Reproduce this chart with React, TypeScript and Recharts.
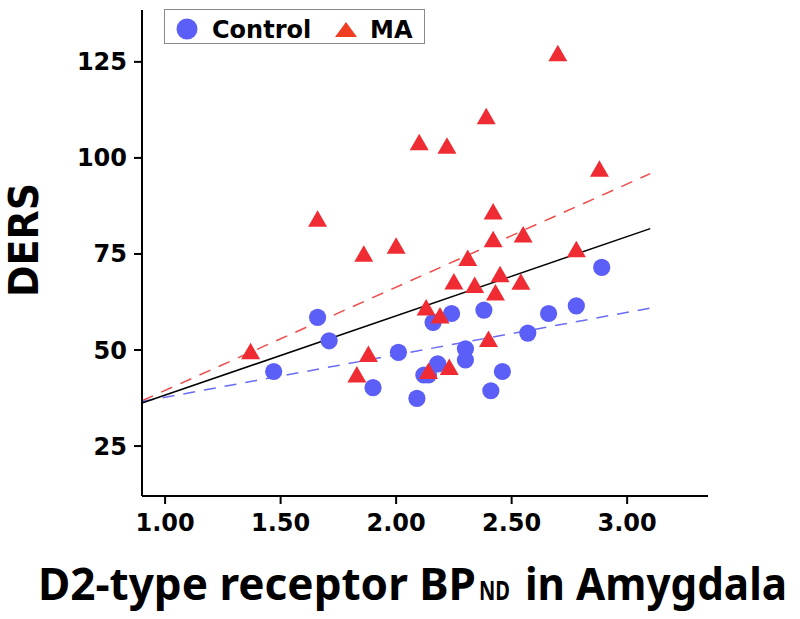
import React from "react"
import {
  ScatterChart,
  Scatter,
  XAxis,
  YAxis,
  ReferenceLine,
  Legend,
  Customized,
} from "recharts"

// Control group (circles)
const controlX = [1.47, 1.66, 1.71, 1.9, 2.01, 2.09, 2.12, 2.14, 2.18, 2.16, 2.24, 2.3, 2.3, 2.38, 2.41, 2.46, 2.57, 2.66, 2.78, 2.89]
const controlY = [44.4, 58.5, 52.4, 40.2, 49.4, 37.4, 43.5, 43.5, 46.4, 57.2, 59.5, 50.3, 47.4, 60.4, 39.4, 44.4, 54.4, 59.5, 61.5, 71.5]

// MA group (triangles)
const maX = [1.37, 1.66, 1.83, 1.86, 1.88, 2.0, 2.1, 2.13, 2.14, 2.19, 2.22, 2.23, 2.25, 2.31, 2.34, 2.39, 2.4, 2.42, 2.42, 2.43, 2.45, 2.54, 2.55, 2.7, 2.78, 2.88]
const maY = [49.0, 83.5, 43.0, 74.4, 48.3, 76.5, 103.4, 60.4, 43.9, 58.3, 102.5, 44.9, 67.2, 73.3, 66.3, 110.2, 52.2, 78.2, 85.4, 64.3, 69.1, 67.1, 79.4, 126.6, 75.6, 96.5]

// fitted lines, endpoints
const fitX = [0.9, 3.1]
const fitAll = [36.2, 81.6]
const fitMA = [36.8, 95.9]
const fitControl = [36.6, 60.9]

const xTicks = [1, 1.5, 2, 2.5, 3]
const yTicks = [25, 50, 75, 100, 125]

const controlData = controlX.map((x, i) => ({ x, y: controlY[i] }))
const maData = maX.map((x, i) => ({ x, y: maY[i] }))

const FONT = "'DejaVu Sans', Verdana, sans-serif"
const TITLE_FONT = "'Noto Sans', 'DejaVu Sans', sans-serif"
const BLUE = "#5b5ef7"
const RED = "#ef2b33"

const seg = (ys: number[]) => [
  { x: fitX[0], y: ys[0] },
  { x: fitX[1], y: ys[1] },
]

const Dot = (props: any) => <circle cx={props.cx} cy={props.cy} r={8.6} fill={BLUE} />

const Tri = (props: any) => {
  const { cx, cy } = props
  const h = 16.5
  const w = 9.5
  const pts = `${cx},${cy - (2 * h) / 3} ${cx - w},${cy + h / 3} ${cx + w},${cy + h / 3}`
  return <polygon points={pts} fill={RED} />
}

const LegendBox = () => (
  <svg width={261} height={35} style={{ display: "block" }}>
    <rect x={0.5} y={0.5} width={260} height={34} fill="#fff" stroke="#8a8a8a" />
    <circle cx={23} cy={20} r={10.5} fill={BLUE} />
    <text x={48} y={29} fontFamily={FONT} fontWeight="bold" fontSize={24} fill="#000">
      Control
    </text>
    <polygon points="182,13 171,28 193,28" fill="#ef3e22" />
    <text x={206} y={29} fontFamily={FONT} fontWeight="bold" fontSize={24} fill="#000">
      MA
    </text>
  </svg>
)

const Labels = () => (
  <g fontWeight="bold" fill="#000">
    <text
      x={24}
      y={240}
      fontFamily={FONT}
      fontSize={40}
      textAnchor="middle"
      dominantBaseline="central"
      transform="rotate(-90 24 240)"
      textLength={114}
      lengthAdjust="spacingAndGlyphs"
    >
      DERS
    </text>
    <text x={38} y={600} fontFamily={TITLE_FONT} fontSize={44} textLength={438} lengthAdjust="spacingAndGlyphs">
      D2-type receptor BP
    </text>
    <text x={479} y={600} fontFamily={TITLE_FONT} fontSize={26} textLength={31} lengthAdjust="spacingAndGlyphs">
      ND
    </text>
    <text x={525} y={600} fontFamily={TITLE_FONT} fontSize={44} textLength={262} lengthAdjust="spacingAndGlyphs">
      in Amygdala
    </text>
  </g>
)

const tickStyle = { fontFamily: FONT, fontWeight: "bold", fontSize: 24, fill: "#000" }

export default function App() {
  return (
    <div style={{ position: "absolute", left: 0, top: 0 }}>
      <ScatterChart width={800} height={619} margin={{ top: 10, right: 92, left: 82, bottom: 83 }}>
        <XAxis
          type="number"
          dataKey="x"
          domain={[0.9, 3.35]}
          ticks={xTicks}
          tickFormatter={(v) => v.toFixed(2)}
          height={40}
          stroke="#000"
          strokeWidth={2}
          tickSize={8}
          tickMargin={10}
          tick={tickStyle}
          allowDataOverflow
        />
        <YAxis
          type="number"
          dataKey="y"
          domain={[12, 138.5]}
          ticks={yTicks}
          width={60}
          stroke="#000"
          strokeWidth={2}
          tickSize={8}
          tickMargin={7}
          tick={tickStyle}
          allowDataOverflow
        />
        <ReferenceLine segment={seg(fitMA)} stroke="#f04a4a" strokeWidth={1.5} strokeDasharray="12 9" />
        <ReferenceLine segment={seg(fitControl)} stroke="#6a6cf5" strokeWidth={1.5} strokeDasharray="12 9" />
        <ReferenceLine segment={seg(fitAll)} stroke="#000" strokeWidth={1.5} />
        <Scatter name="Control" data={controlData} fill={BLUE} shape={Dot} isAnimationActive={false} />
        <Scatter name="MA" data={maData} fill={RED} shape={Tri} isAnimationActive={false} />
        <Legend
          layout="horizontal"
          verticalAlign="middle"
          content={() => <LegendBox />}
          wrapperStyle={{ left: 164, top: 9, width: 261, height: 35 }}
        />
        <Customized component={Labels} />
      </ScatterChart>
    </div>
  )
}
